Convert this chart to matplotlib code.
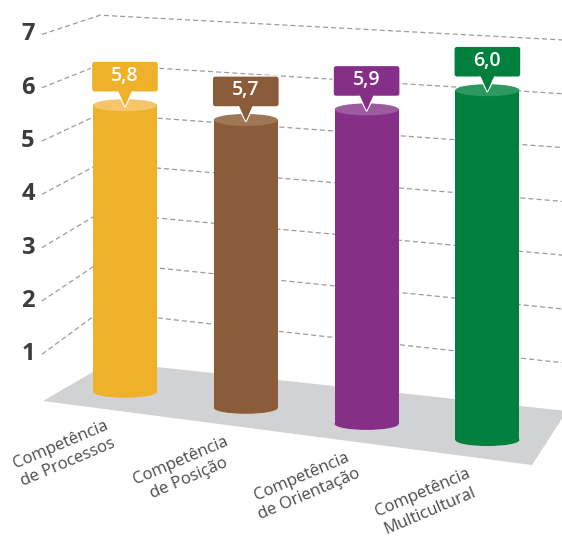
import matplotlib
matplotlib.use("Agg")
import matplotlib.pyplot as plt
from matplotlib.patches import Polygon, Rectangle, Ellipse, FancyBboxPatch

# data
categories = ["Competência\nde Processos", "Competência\nde Posição",
              "Competência\nde Orientação", "Competência\nMulticultural"]
values = [5.8, 5.7, 5.9, 6.0]
value_labels = ["5,8", "5,7", "5,9", "6,0"]
ticks = [1, 2, 3, 4, 5, 6, 7]

side_colors = ["#EFB12A", "#8A5C3A", "#852F88", "#007F3D"]
top_colors = ["#F4C569", "#9F7756", "#9C5A9F", "#2C9961"]

# perspective geometry (pixel space of the picture)
W, H = 562, 541
LEFT_X, CORNER_X, RIGHT_X = 42, 100, 562
wall_zero = {"left": 407.5, "corner": 361.0, "right": 416.5}
wall_scale = {"left": 53.3, "corner": 49.4, "right": 53.8}
floor = [(43, 401), (110, 362), (567, 411), (532, 465)]

base_x0, base_dx = 125.0, 120.8
base_y0, base_dy = 391.7, 16.1
depth_scale = [49.4, 50.5, 53.3, 58.3]   # px per unit, grows towards the viewer
bar_half_w = 32
ell_h = 12


def wall_y(side, v):
    return wall_zero[side] - wall_scale[side] * v


fig = plt.figure(figsize=(W / 100, H / 100), dpi=100)
ax = fig.add_axes([0, 0, 1, 1])
ax.set_xlim(0, W)
ax.set_ylim(H, 0)
ax.axis("off")

# floor
ax.add_patch(Polygon(floor, closed=True, facecolor="#D1D2D3", edgecolor="none", zorder=1))

# gridlines on left and back wall + tick labels
for t in ticks:
    xs = [LEFT_X, CORNER_X, RIGHT_X]
    ys = [wall_y("left", t), wall_y("corner", t), wall_y("right", t)]
    ax.plot(xs, ys, color="#9C9C9C", lw=0.9, dashes=(4, 2.5), zorder=2)
    ax.text(28, wall_y("left", t), str(t), ha="center", va="center",
            fontsize=17, fontweight="bold", color="#3C3C3C", family="Open Sans")

# cylinders
for i, v in enumerate(values):
    cx = base_x0 + base_dx * i
    by = base_y0 + base_dy * i
    ty = by - depth_scale[i] * v
    z = 3 + i
    ax.add_patch(Ellipse((cx, by), 2 * bar_half_w, ell_h, facecolor=side_colors[i],
                         edgecolor="none", zorder=z))
    ax.add_patch(Rectangle((cx - bar_half_w, ty), 2 * bar_half_w, by - ty,
                           facecolor=side_colors[i], edgecolor="none", zorder=z))
    ax.add_patch(Ellipse((cx, ty), 2 * bar_half_w, ell_h, facecolor=top_colors[i],
                         edgecolor="none", zorder=z))

    # callout
    tip = ty + 1
    bw, bh, ph = 67, 31, 14
    bottom = tip - ph
    box = FancyBboxPatch((cx - bw / 2 + 3, bottom - bh + 3), bw - 6, bh - 6,
                         boxstyle="round,pad=3", facecolor=side_colors[i],
                         edgecolor="white", lw=1.0, zorder=z + 0.5)
    ax.add_patch(box)
    tri = [(cx - 7, bottom - 1.5), (cx, tip), (cx + 7, bottom - 1.5)]
    ax.add_patch(Polygon(tri, closed=True, facecolor=side_colors[i], edgecolor="none",
                         zorder=z + 0.6))
    ax.plot([cx - 7.5, cx, cx + 7.5], [bottom, tip + 0.8, bottom], color="white",
            lw=1.0, zorder=z + 0.55, solid_joinstyle="miter")
    ax.text(cx, bottom - bh / 2 - 1, value_labels[i], ha="center", va="center",
            fontsize=14, fontweight="semibold", color="white", family="Open Sans",
            zorder=z + 0.7)

    # category label
    ax.text(cx - 61, by + 62, categories[i], ha="center", va="center",
            multialignment="center", rotation=23, rotation_mode="anchor",
            fontsize=12, color="#4A4A4A", family="Open Sans", linespacing=1.25,
            zorder=10)

fig.savefig("out.png", dpi=100)
